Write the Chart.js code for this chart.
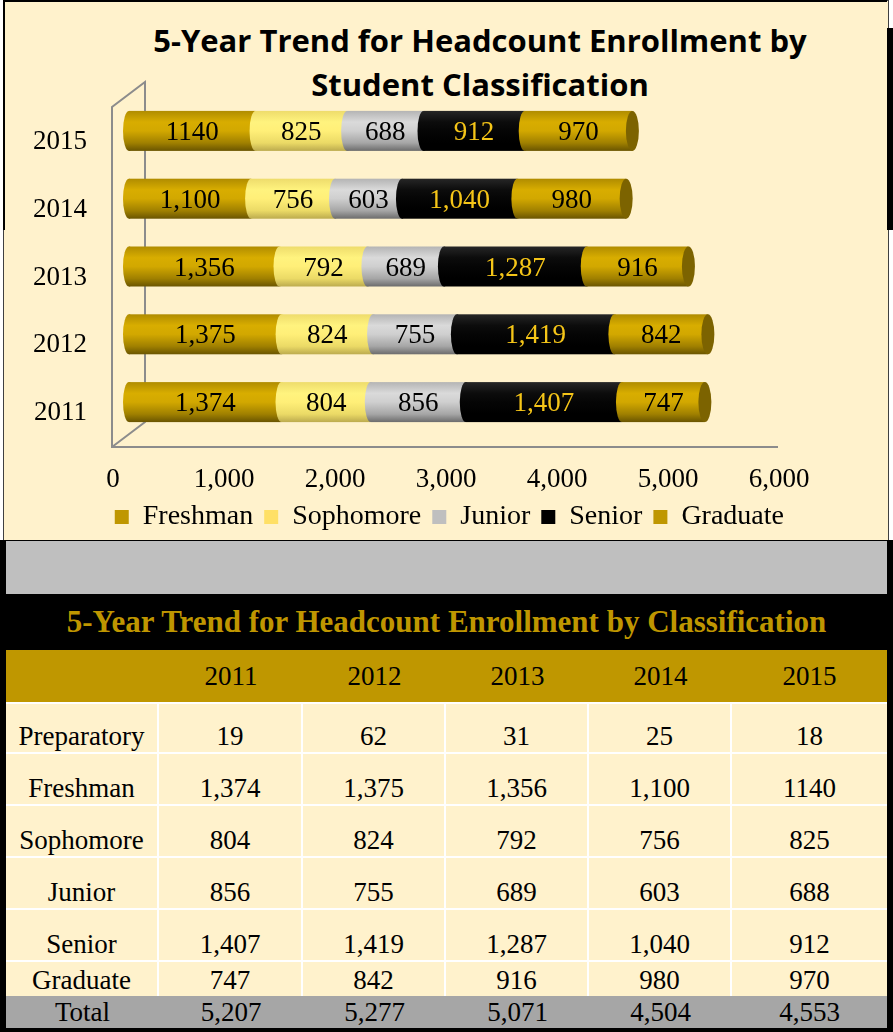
<!DOCTYPE html>
<html>
<head>
<title>Headcount Enrollment</title>
<script src="https://cdn.jsdelivr.net/npm/chart.js"></script>
<style>
  body { margin: 0; background: #fff; }
  #page { position: relative; width: 893px; height: 1032px; overflow: hidden; }
  #panel { position: absolute; left: 3px; top: 0; width: 886px; height: 541px; background: #FFF2CC;
           border: 1px solid #404040; box-sizing: border-box; }
  .edge { position: absolute; background: #000; }
  #chartTitle { position: absolute; left: 0; top: 18px; width: 960px; text-align: center;
                font: bold 31px "Open Sans", sans-serif; line-height: 44px; color: #000; }
  #chart { position: absolute; left: 0; top: 0; }
  #lower { position: absolute; left: 0; top: 540px; width: 893px; height: 492px; background: #000; }
  #band { position: absolute; left: 6px; top: 541px; width: 881px; height: 53px; background: #BFBFBF; }
  #tableTitle { position: absolute; left: 0; top: 594px; width: 893px; height: 56px;
                text-align: center; color: #BF9600; font: bold 31px "Liberation Serif", serif; line-height: 56px; }
  #table { position: absolute; left: 6px; top: 650px; }
  .cell { position: absolute; box-sizing: border-box; display: flex; justify-content: center;
          align-items: flex-end; padding-bottom: 1px; font: 27px "Liberation Serif", serif;
          line-height: 30px; color: #000; white-space: nowrap; }
</style>
</head>
<body>
<div id="page">
    <div id="panel"></div>
    <div class="edge" style="left:3px;top:0;width:2px;height:230px"></div>
    <div class="edge" style="left:3px;top:0;width:884px;height:2px"></div>
    <div class="edge" style="left:887px;top:28px;width:6px;height:202px"></div>
    <div id="chartTitle">5-Year Trend for Headcount Enrollment by<br>Student Classification</div>
    <canvas id="chart" width="893" height="541"></canvas>
    <div id="lower"></div>
    <div id="band"></div>
    <div id="tableTitle">5-Year Trend for Headcount Enrollment by Classification</div>
    <div id="table"></div>
</div>

<script>
    // Data
    const years = ['2011', '2012', '2013', '2014', '2015'];
    const preparatory = [19, 62, 31, 25, 18];
    const freshman = [1374, 1375, 1356, 1100, 1140];
    const sophomore = [804, 824, 792, 756, 825];
    const junior = [856, 755, 689, 603, 688];
    const senior = [1407, 1419, 1287, 1040, 912];
    const graduate = [747, 842, 916, 980, 970];
    const totals = [5207, 5277, 5071, 4504, 4553];
    // the 2015 freshman figure is printed without a thousands separator
    const plainCells = ['Freshman 2015'];

    const fmt = (v, name, year) =>
        plainCells.includes(name + ' ' + year) ? String(v) : v.toLocaleString('en-US');

    // Styles for each series
    const looks = {
        Freshman:  { flat: '#BF9700', text: '#000', shades: ['#B08C00', '#D8AD00', '#D2A800', '#A08000', '#6A5500'] },
        Sophomore: { flat: '#FFE066', text: '#000', shades: ['#EEDC6C', '#FFF37E', '#FFEF78', '#EBDA66', '#BCAB4E'] },
        Junior:    { flat: '#BFBFBF', text: '#000', shades: ['#B4B4B4', '#DADADA', '#CFCFCF', '#A6A6A6', '#6C6C6C'] },
        Senior:    { flat: '#000000', text: '#F5C518', shades: ['#262626', '#0C0C0C', '#050505', '#000000', '#000000'] },
        Graduate:  { flat: '#BF9700', text: '#000', shades: ['#B08C00', '#D8AD00', '#D2A800', '#A08000', '#6A5500'] }
    };
    const stops = [0, 0.28, 0.5, 0.8, 1];
    const endCap = '#7C6300';
    const font = '"Liberation Serif", serif';

    const series = [
        ['Freshman', freshman], ['Sophomore', sophomore], ['Junior', junior],
        ['Senior', senior], ['Graduate', graduate]
    ];

    // 3D wall, cylinders and value labels
    const cylinders = {
        id: 'cylinders',
        beforeDatasetsDraw(chart) {
            const ctx = chart.ctx, xs = chart.scales.x, a = chart.chartArea;
            const x0 = xs.getPixelForValue(0);
            const fx = x0 - 17, bx = x0 + 16;
            ctx.save();
            ctx.strokeStyle = '#8C8C8C';
            ctx.lineWidth = 2;
            ctx.beginPath();
            ctx.moveTo(xs.getPixelForValue(6000) - 17, a.bottom + 11);
            ctx.lineTo(fx, a.bottom + 11);
            ctx.lineTo(fx, a.top + 10);
            ctx.lineTo(bx, a.top - 15);
            ctx.lineTo(bx, a.bottom - 14);
            ctx.lineTo(fx, a.bottom + 11);
            ctx.stroke();
            ctx.restore();
        },
        beforeDatasetDraw() {
            return false;
        },
        afterDatasetsDraw(chart) {
            const ctx = chart.ctx;
            const n = chart.data.datasets.length;
            ctx.save();
            chart.data.datasets.forEach((ds, di) => {
                const look = looks[ds.label];
                chart.getDatasetMeta(di).data.forEach(bar => {
                    const { x, y, base, height } = bar.getProps(['x', 'y', 'base', 'height'], true);
                    const y0 = y - height / 2;
                    const g = ctx.createLinearGradient(0, y0, 0, y0 + height);
                    look.shades.forEach((c, k) => g.addColorStop(stops[k], c));
                    ctx.fillStyle = g;
                    ctx.fillRect(base, y0, x - base, height);
                    ctx.beginPath();
                    ctx.ellipse(base, y, 6, height / 2, 0, 0, Math.PI * 2);
                    ctx.fill();
                    if (di === n - 1) {
                        ctx.fillStyle = endCap;
                        ctx.beginPath();
                        ctx.ellipse(x, y, 6.5, height / 2, 0, 0, Math.PI * 2);
                        ctx.fill();
                    }
                });
            });
            ctx.font = '27px ' + font;
            ctx.textAlign = 'center';
            ctx.textBaseline = 'middle';
            chart.data.datasets.forEach((ds, di) => {
                ctx.fillStyle = looks[ds.label].text;
                chart.getDatasetMeta(di).data.forEach((bar, i) => {
                    const { x, y, base } = bar.getProps(['x', 'y', 'base'], true);
                    ctx.fillText(fmt(ds.data[i], ds.label, years[i]), (x + base) / 2, y + 2);
                });
            });
            ctx.restore();
        }
    };

    new Chart(document.getElementById('chart'), {
        type: 'bar',
        data: {
            labels: years,
            datasets: series.map(([name, values]) => ({
                label: name,
                data: values,
                backgroundColor: looks[name].flat,
                borderWidth: 0,
                barPercentage: 0.59,
                categoryPercentage: 1
            }))
        },
        options: {
            indexAxis: 'y',
            responsive: false,
            animation: false,
            devicePixelRatio: 1,
            layout: { padding: { left: 0, right: 98, top: 97, bottom: 0 } },
            scales: {
                x: {
                    stacked: true,
                    min: 0,
                    max: 6000,
                    grid: { display: false, drawTicks: false },
                    border: { display: false },
                    afterFit: scale => { scale.height = 56; },
                    ticks: {
                        stepSize: 1000,
                        padding: 30,
                        labelOffset: -16,
                        color: '#000',
                        font: { family: font, size: 27, lineHeight: '28px' },
                        callback: v => v.toLocaleString('en-US')
                    }
                },
                y: {
                    stacked: true,
                    reverse: true,
                    grid: { display: false, drawTicks: false },
                    border: { display: false },
                    afterFit: scale => { scale.width = 129; },
                    ticks: {
                        padding: 42,
                        labelOffset: 11,
                        color: '#000',
                        font: { family: font, size: 27 }
                    }
                }
            },
            plugins: {
                title: { display: false },
                tooltip: { enabled: false },
                legend: {
                    position: 'bottom',
                    align: 'end',
                    labels: {
                        boxWidth: 14,
                        boxHeight: 14,
                        padding: 11,
                        color: '#000',
                        font: { family: font, size: 28 }
                    }
                }
            }
        },
        plugins: [cylinders]
    });

    // Table below the chart
    const rows = [
        ['Preparatory', preparatory], ['Freshman', freshman], ['Sophomore', sophomore],
        ['Junior', junior], ['Senior', senior], ['Graduate', graduate], ['Total', totals]
    ];
    const colWidths = [153, 144, 143, 143, 143, 155];
    const rowHeights = [52, 52, 52, 52, 52, 52, 34, 32];
    const table = document.getElementById('table');

    function addCell(text, x, y, w, h, css) {
        const d = document.createElement('div');
        d.className = 'cell';
        d.textContent = text;
        Object.assign(d.style, { left: x + 'px', top: y + 'px', width: w + 'px', height: h + 'px' }, css);
        table.appendChild(d);
    }

    let rowY = 0;
    // header row
    let colX = 0;
    ['', ...years].forEach((t, c) => {
        addCell(t, colX, rowY, colWidths[c], rowHeights[0],
            { background: '#BF9700', alignItems: 'center', paddingBottom: '0' });
        colX += colWidths[c];
    });
    rowY += rowHeights[0];

    rows.forEach(([name, values], r) => {
        const h = rowHeights[r + 1];
        const isTotal = name === 'Total';
        colX = 0;
        [name, ...values].forEach((v, c) => {
            const css = { background: isTotal ? '#A6A6A6' : '#FFF2CC' };
            if (!isTotal) {
                if (c < colWidths.length - 1) css.borderRight = '2px solid #fff';
                if (name !== 'Graduate') css.borderBottom = '2px solid #fff';
                if (r === 0) css.borderTop = '2px solid #fff';
            }
            const text = c === 0 ? v : fmt(v, name, years[c - 1]);
            addCell(text, colX, rowY, colWidths[c], h, css);
            colX += colWidths[c];
        });
        rowY += h;
    });
</script>
</body>
</html>
